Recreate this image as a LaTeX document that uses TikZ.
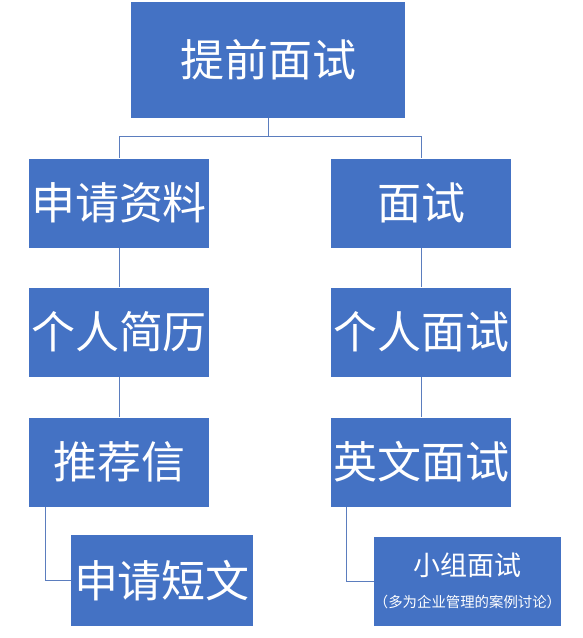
\documentclass[tikz,border=0pt]{standalone}
\usepackage{fontspec}
\usepackage{xcolor}
\setmainfont{Noto Sans CJK SC}
\usetikzlibrary{positioning}
\definecolor{boxblue}{HTML}{4472C4}
\definecolor{linkblue}{HTML}{5B7DBE}

\begin{document}
\begin{tikzpicture}[x=1pt,y=-1pt,
		box/.style={fill=boxblue, text=white, inner sep=0pt, minimum width=180pt, minimum height=89pt, font=\fontsize{44}{50}\selectfont},
		link/.style={draw=linkblue, line width=0.8pt}]
		
			\useasboundingbox (0,0) rectangle (582,638);
			
			\node[box, minimum width=274pt, minimum height=116pt] (tq) at (268,59.5) {提前面试};
			
			\node[box] (sq) at (119,203) {申请资料};
			\node[box] (ms) at (421,203) {面试};
			
			\node[box] (jl) at (119,332) {个人简历};
			\node[box] (gr) at (421,332) {个人面试};
			
			\node[box] (tj) at (119,462) {推荐信};
			\node[box] (yw) at (421,462) {英文面试};
			
			\node[box, minimum width=182pt, minimum height=91pt] (dw) at (162,580.5) {申请短文};
			\node[box, minimum width=180pt, minimum height=89pt, font=\fontsize{27}{30}\selectfont, align=center] (xz) at (467.5,581)
				{\raisebox{0pt}{小组面试}\\[2pt]{\fontsize{14.4}{16}\selectfont （多为企业管理的案例讨论）}};
			
			\draw[link] (tq.south) -- ++(0,19) -| (sq.north);
			\draw[link] (tq.south) -- ++(0,19) -| (ms.north);
			
			\draw[link] (sq.south) -- (jl.north);
			\draw[link] (jl.south) -- (tj.north);
			\draw[link] (ms.south) -- (gr.north);
			\draw[link] (gr.south) -- (yw.north);
			
			\draw[link] ([xshift=17pt]tj.south west) |- (dw.west);
			\draw[link] ([xshift=16pt]yw.south west) |- (xz.west);
			
		\end{tikzpicture}
\end{document}
